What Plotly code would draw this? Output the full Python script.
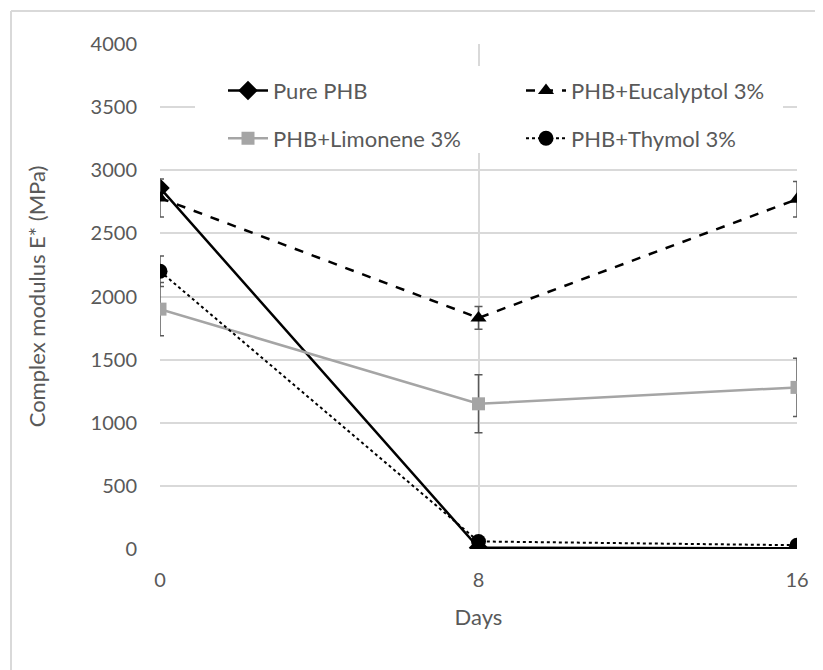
import plotly.graph_objects as go

days = [0, 8, 16]
pure_phb = [2860, 10, 5]
eucalyptol = [2780, 1830, 2770]
eucalyptol_err = [150, 90, 140]
limonene = [1900, 1150, 1280]
limonene_err = [210, 230, 230]
thymol = [2200, 60, 30]
thymol_err = [120, 20, 20]

names = ["Pure PHB", "PHB+Eucalyptol 3%", "PHB+Limonene 3%", "PHB+Thymol 3%"]

FONT = "Lato"
TXT = "#595959"
GRID = "#D9D9D9"
ERR = "#595959"

L, R, T, B = 152, 34, 36, 129
PW, PH = 823 - L - R, 670 - T - B


def px_x(p):
    return (p - L) / PW


def px_y(p):
    return 1 - (p - T) / PH


fig = go.Figure()

fig.add_trace(go.Scatter(
    x=days, y=pure_phb, name=names[0], mode="lines+markers", legend="legend",
    line=dict(color="black", width=2.5),
    marker=dict(symbol="diamond", size=15, color="black"),
))
fig.add_trace(go.Scatter(
    x=days, y=eucalyptol, name=names[1], mode="lines+markers", legend="legend2",
    line=dict(color="black", width=2.5, dash="dash"),
    marker=dict(symbol="triangle-up", size=14, color="black"),
    error_y=dict(type="data", array=eucalyptol_err, color=ERR, thickness=1.5, width=4),
))
fig.add_trace(go.Scatter(
    x=days, y=limonene, name=names[2], mode="lines+markers", legend="legend3",
    line=dict(color="#A5A5A5", width=2.5),
    marker=dict(symbol="square", size=13, color="#A5A5A5"),
    error_y=dict(type="data", array=limonene_err, color=ERR, thickness=1.5, width=4),
))
fig.add_trace(go.Scatter(
    x=days, y=thymol, name=names[3], mode="lines+markers", legend="legend4",
    line=dict(color="black", width=2, dash="dot"),
    marker=dict(symbol="circle", size=15, color="black"),
    error_y=dict(type="data", array=thymol_err, color=ERR, thickness=1.5, width=4),
))

col1, col2 = px_x(215), px_x(513)
row1, row2 = px_y(82.6), px_y(130.5)


def leg(x, y):
    return dict(x=x, y=y, xanchor="left", yanchor="middle", bgcolor="rgba(0,0,0,0)",
                font=dict(family=FONT, size=22, color=TXT), itemwidth=40)


fig.update_layout(
    width=823, height=670,
    margin=dict(l=L, r=R, t=T, b=B),
    paper_bgcolor="white", plot_bgcolor="white",
    font=dict(family=FONT, size=20, color=TXT),
    showlegend=True,
    legend=leg(col1, row1),
    legend2=leg(col2, row1),
    legend3=leg(col1, row2),
    legend4=leg(col2, row2),
    xaxis=dict(
        range=[0, 16], tickvals=days, ticktext=[str(d) for d in days],
        showgrid=True, gridcolor=GRID, gridwidth=1.5,
        showline=False, zeroline=False,
        ticks="outside", ticklen=13, tickcolor="rgba(0,0,0,0)",
        title=dict(text="Days", font=dict(family=FONT, size=22, color=TXT), standoff=19),
        tickfont=dict(size=20, color=TXT),
    ),
    yaxis=dict(
        range=[0, 4000], dtick=500,
        showgrid=True, gridcolor=GRID, gridwidth=1.5,
        showline=False, zeroline=False,
        ticks="outside", ticklen=18, tickcolor="rgba(0,0,0,0)",
        title=dict(text="Complex modulus E* (MPa)", font=dict(family=FONT, size=22, color=TXT), standoff=38),
        tickfont=dict(size=20, color=TXT),
    ),
)

# white legend background covering gridlines
fig.add_shape(type="rect", xref="paper", yref="paper",
              x0=px_x(187), x1=px_x(775), y0=px_y(145), y1=px_y(58),
              fillcolor="white", line=dict(width=0), layer="above")

# outer chart border (top and left visible)
bx = px_x(3)
by = px_y(3)
fig.add_shape(type="line", xref="paper", yref="paper", x0=bx, x1=1.2,
              y0=by, y1=by, line=dict(color="#D9D9D9", width=2), layer="below")
fig.add_shape(type="line", xref="paper", yref="paper", x0=bx, x1=bx,
              y0=by, y1=-0.5, line=dict(color="#D9D9D9", width=2), layer="below")

fig.write_html("out.html")
